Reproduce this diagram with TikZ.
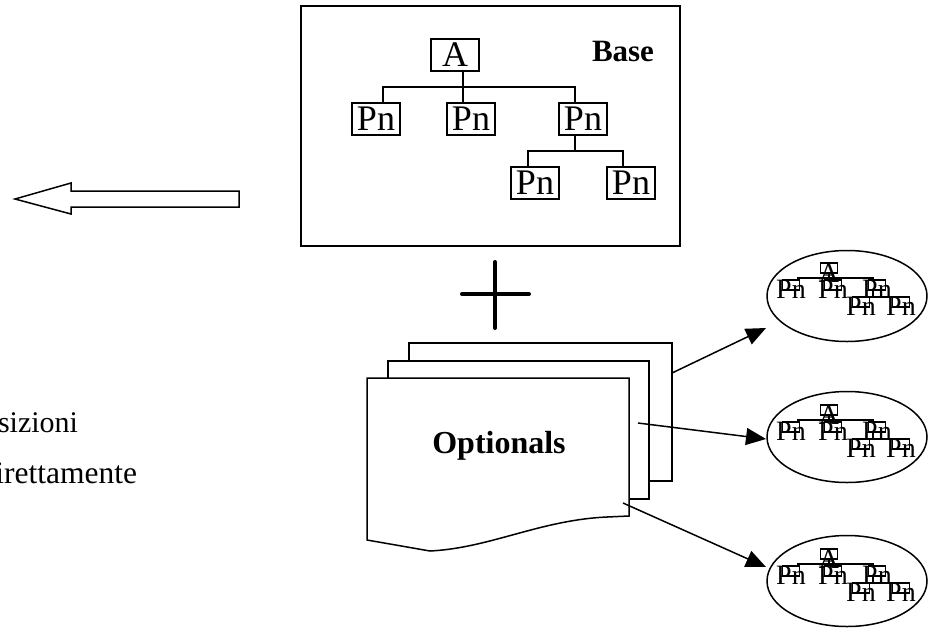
\documentclass[tikz,border=0pt]{standalone}
\usepackage{fontspec}
\setmainfont{Liberation Serif}
\usetikzlibrary{arrows.meta,shapes.geometric}
\tikzset{
  every node/.style={inner sep=0pt,outer sep=0pt},
  bigbox/.style={draw,line width=1.3pt,minimum width=48pt,minimum height=32pt,font=\fontsize{36}{40}\selectfont},
  treeline/.style={line width=1.3pt},
  page/.style={draw,line width=1.5pt,fill=white},
  conn/.style={line width=1.5pt,-{Triangle[length=20pt,width=17pt]}},
  oval/.style={draw,ellipse,line width=1.5pt,minimum width=160pt,minimum height=91pt},
  sbox/.style={draw,line width=1.1pt,minimum width=17pt,minimum height=10pt},
  stext/.style={font=\fontsize{28}{30}\selectfont},
  minitree/.pic={
    \node[sbox] (-a) at (0,0) {};
    \node[stext] at (0,5) {A};
    \node[sbox] (-p1) at (-38,17) {};
    \node[sbox] (-p2) at (4,17) {};
    \node[sbox] (-p3) at (48,17) {};
    \node[sbox] (-p4) at (32,34) {};
    \node[sbox] (-p5) at (72,34) {};
    \foreach \q in {p1,p2,p3,p4,p5}{\node[stext] at ([yshift=-4pt]-\q) {Pn};}
    \draw[treeline,line width=1.1pt] (-a.south) -- (0,10);
    \draw[treeline,line width=1.1pt] (-31,12) |- (44,10) -- (44,12);
    \draw[treeline,line width=1.1pt] (44,22) -- (44,29);
    \draw[treeline,line width=1.1pt] (27,30) |- (67,29) -- (67,30);
  }
}
\begin{document}
\begin{tikzpicture}[x=1pt,y=-1pt]
\useasboundingbox (0,0) rectangle (928,627);

% Base box
\node[draw,line width=1.8pt,minimum width=379pt,minimum height=240pt,anchor=north west] (base) at (301,6) {};
\node[font=\fontsize{31}{34}\selectfont\bfseries] (baselbl) at (623,51) {Base};
\node[bigbox] (A) at (455,55) {A};
\node[bigbox] (p1) at (376,119) {Pn};
\node[bigbox] (p2) at (471,119) {Pn};
\node[bigbox] (p3) at (583,119) {Pn};
\node[bigbox] (p4) at (535,183) {Pn};
\node[bigbox] (p5) at (631,183) {Pn};
\coordinate (busA) at (463,87);
\coordinate (busL) at (383,87);
\coordinate (busR) at (575,87);
\coordinate (bus2L) at (528,151);
\coordinate (bus2R) at (623,151);
\draw[treeline] (busA |- A.south) -- (busA);
\draw[treeline] (busL |- p1.north) -- (busL) -- (busR) -- (busR |- p3.north);
\draw[treeline] (busA) -- (busA |- p2.north);
\draw[treeline] (busR |- p3.south) -- (busR |- bus2L);
\draw[treeline] (bus2L |- p4.north) -- (bus2L) -- (bus2R) -- (bus2R |- p5.north);

% open arrow
\draw[line width=1.5pt,line join=miter] (15,199) -- (71,183) -- (71,191) -- (239,191) -- (239,207) -- (71,207) -- (71,214) -- cycle;

% plus sign
\draw[line width=4pt,line cap=round] (495,262) -- (495,328);
\draw[line width=4pt,line cap=round] (462,294) -- (529,294);

% optional pages
\draw[page] (409,343) rectangle (672,481);
\draw[page] (388,361) rectangle (649,499);
\draw[page] (367,378) -- (629,378) -- (629,516) -- (607,517)
  .. controls (540,520) and (490,548) .. (430,551) -- (367,540) -- cycle;
\node[font=\fontsize{32}{38}\selectfont\bfseries] (opt) at (499,446) {Optionals};

% ellipses with mini trees
\node[oval] (e1) at (847,296) {};
\node[oval] (e2) at (847,437) {};
\node[oval] (e3) at (847,581) {};
\pic (t1) at (829,268) {minitree};
\pic (t2) at (829,410) {minitree};
\pic (t3) at (829,554) {minitree};

% connectors
\coordinate (s1) at (672,373);
\coordinate (s2) at (638,423);
\coordinate (s3) at (623,503);
\coordinate (t1end) at (766,328);
\coordinate (t2end) at (766,439);
\coordinate (t3end) at (766,567);
\draw[conn] (s1) -- (t1end);
\draw[conn] (s2) -- (t2end);
\draw[conn] (s3) -- (t3end);

% left texts (cut by the edge)
\node[font=\fontsize{30}{34}\selectfont,anchor=base east] (txt1) at (78,432) {sizioni};
\node[font=\fontsize{31.5}{34}\selectfont,anchor=base east] (txt2) at (137,483) {irettamente};
\end{tikzpicture}
\end{document}
